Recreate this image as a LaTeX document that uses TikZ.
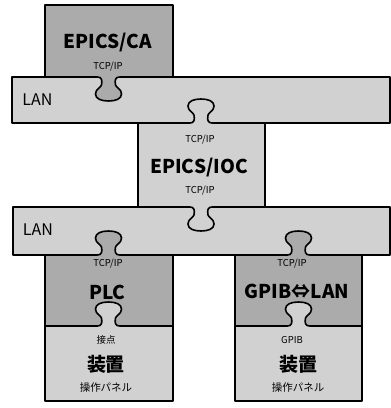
\documentclass[tikz,border=0pt]{standalone}
\usepackage{fontspec}
\newfontfamily\jp{Noto Sans CJK JP}
\tikzset{
  piece/.style={line width=1.7pt, line join=round},
  tabline/.style={line width=1.6pt, line cap=round, line join=round},
  big/.style={font=\jp\bfseries\fontsize{19}{19}\selectfont, inner sep=0pt},
  mid/.style={font=\jp\fontsize{16}{16}\selectfont, inner sep=0pt},
  small/.style={font=\jp\fontsize{9.5}{9.5}\selectfont, inner sep=0pt},
  tiny/.style={font=\jp\fontsize{10.5}{10.5}\selectfont, inner sep=0pt},
}
\colorlet{darkfill}{black!33}
\colorlet{lightfill}{black!18}
\def\tabcurve{.. controls (-7,0) and (-6,3) .. (-7,8) .. controls (-8,11) and (-13,12) .. (-13,17) .. controls (-13,22) and (-7,24) .. (0,24) .. controls (7,24) and (13,22) .. (13,17) .. controls (13,12) and (8,11) .. (7,8) .. controls (6,3) and (7,0) .. (11,0)}
\newcommand{\puzzletab}[4]{%
  \begin{scope}[shift={(#1,#2)}, yscale=#3]
    \fill[#4] (-11,-2) -- (-11,0) \tabcurve -- (11,-2) -- cycle;
    \draw[tabline] (-11,0) \tabcurve;
  \end{scope}}
\begin{document}
\begin{tikzpicture}[x=1pt,y=-1pt]
\useasboundingbox (0,0) rectangle (391,408);
% boxes
\draw[piece, fill=darkfill] (45,5) rectangle (173,77);
\draw[piece, fill=lightfill] (138,122) rectangle (265,207);
\draw[piece, fill=darkfill] (45,255) rectangle (173,326);
\draw[piece, fill=lightfill] (45,326) rectangle (173,401);
\draw[piece, fill=darkfill] (235,255) rectangle (362,326);
\draw[piece, fill=lightfill] (235,326) rectangle (362,401);
% LAN bars
\draw[piece, fill=lightfill] (12,77) rectangle (390,123);
\draw[piece, fill=lightfill] (13,207) rectangle (390,255);
% tabs
\puzzletab{108.5}{77}{1}{darkfill}
\puzzletab{201}{123}{-1}{lightfill}
\puzzletab{201}{207}{1}{lightfill}
\puzzletab{108.5}{255}{-1}{darkfill}
\puzzletab{298.5}{255}{-1}{darkfill}
\puzzletab{108.5}{326}{-1}{lightfill}
\puzzletab{298.5}{326}{-1}{lightfill}
% texts
\node[big] (ca) at (108,42.5) {EPICS/CA};
\node[small] (catcp) at (108,67) {TCP/IP};
\node[mid] (lan1) at (37.5,100) {LAN};
\node[small] (ioctcp1) at (200,140) {TCP/IP};
\node[big] (ioc) at (199,167.5) {EPICS/IOC};
\node[small] (ioctcp2) at (200,191) {TCP/IP};
\node[mid] (lan2) at (38,230) {LAN};
\node[small] (plctcp) at (108,264) {TCP/IP};
\node[big] (plc) at (107.5,292) {PLC};
\node[small] (contact) at (106,340) {接点};
\node[big] (dev1) at (106,364.5) {装置};
\node[tiny] (panel1) at (106,388) {操作パネル};
\node[small] (gtcp) at (292,264) {TCP/IP};
\node[big] (gpib) at (297,291.5) {GPIB⇔LAN};
\node[small] (gpibs) at (292,340) {GPIB};
\node[big] (dev2) at (298,364.5) {装置};
\node[tiny] (panel2) at (298,388) {操作パネル};
\end{tikzpicture}
\end{document}
